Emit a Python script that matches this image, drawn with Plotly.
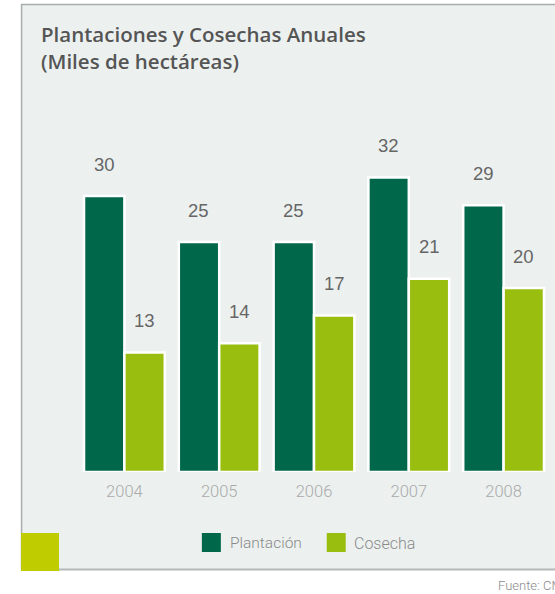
import plotly.graph_objects as go

# ---- data ----
years = ["2004", "2005", "2006", "2007", "2008"]
plantacion = [30, 25, 25, 32, 29]
cosecha = [13, 14, 17, 21, 20]
series_names = ["Plantación", "Cosecha"]
title_lines = ["Plantaciones y Cosechas Anuales", "(Miles de hectáreas)"]
source_text = "Fuente: CMPC"

# ---- geometry (pixels) ----
FIG_W, FIG_H = 555, 594
L, R, T, B = 77, 3.5, 104, 122
PW = FIG_W - L - R
PH = FIG_H - T - B
BASE = FIG_H - B


def X(px):
    return (px - L) / PW


def Y(py):
    return (BASE - py) / PH


DARK = "#00674A"
LIME = "#99BE10"
PANEL = "#ECF1F0"

fig = go.Figure()
fig.add_trace(go.Bar(x=years, y=plantacion, name=series_names[0],
                     marker=dict(color=DARK, line=dict(color="white", width=2.5)),
                     showlegend=False))
fig.add_trace(go.Bar(x=years, y=cosecha, name=series_names[1],
                     marker=dict(color=LIME, line=dict(color="white", width=2.5)),
                     showlegend=False))

shapes = [
    dict(type="rect", xref="paper", yref="paper", x0=X(21), x1=X(600), y0=Y(570), y1=Y(4),
         fillcolor=PANEL, line=dict(width=0), layer="below"),
    dict(type="line", xref="paper", yref="paper", x0=X(21), x1=X(600), y0=Y(4.5), y1=Y(4.5),
         line=dict(color="#A8ADAD", width=1.5), layer="below"),
    dict(type="line", xref="paper", yref="paper", x0=X(21.5), x1=X(21.5), y0=Y(4), y1=Y(570),
         line=dict(color="#A8ADAD", width=1.5), layer="below"),
    dict(type="line", xref="paper", yref="paper", x0=X(21), x1=X(600), y0=Y(569.5), y1=Y(569.5),
         line=dict(color="#B4B8B8", width=2), layer="below"),
    dict(type="rect", xref="paper", yref="paper", x0=X(21), x1=X(59), y0=Y(571), y1=Y(533),
         fillcolor="#BFCC00", line=dict(width=0), layer="above"),
    # legend swatches
    dict(type="rect", xref="paper", yref="paper", x0=X(202), x1=X(221), y0=Y(552), y1=Y(533),
         fillcolor=DARK, line=dict(width=0)),
    dict(type="rect", xref="paper", yref="paper", x0=X(327), x1=X(346), y0=Y(552), y1=Y(533),
         fillcolor=LIME, line=dict(width=0)),
]

annotations = [
    dict(xref="paper", yref="paper", x=X(39), y=Y(18), xanchor="left", yanchor="top",
         text="<br>".join(title_lines), showarrow=False, align="left",
         font=dict(family="Open Sans", size=20.5, color="#555555", weight=600)),
    dict(xref="paper", yref="paper", x=X(228), y=Y(543), xanchor="left", yanchor="middle",
         text=series_names[0], showarrow=False,
         font=dict(family="Roboto", size=15.5, color="#8A8A8A", weight=300)),
    dict(xref="paper", yref="paper", x=X(352), y=Y(543), xanchor="left", yanchor="middle",
         text=series_names[1], showarrow=False,
         font=dict(family="Roboto", size=16, color="#8A8A8A", weight=300)),
    dict(xref="paper", yref="paper", x=X(496), y=Y(585), xanchor="left", yanchor="middle",
         text=source_text, showarrow=False,
         font=dict(family="Roboto", size=13, color="#8A8A8A", weight=300)),
]

for i, v in enumerate(plantacion):
    annotations.append(dict(x=i, y=v, xref="x", yref="y", xshift=-20.25, yshift=32,
                            text=str(v), showarrow=False, yanchor="middle",
                            font=dict(family="Liberation Sans", size=18.5, color="#666666")))
for i, v in enumerate(cosecha):
    annotations.append(dict(x=i, y=v, xref="x", yref="y", xshift=20.25, yshift=32,
                            text=str(v), showarrow=False, yanchor="middle",
                            font=dict(family="Liberation Sans", size=18.5, color="#666666")))

fig.update_layout(
    width=FIG_W, height=FIG_H,
    margin=dict(l=L, r=R, t=T, b=B, pad=0),
    paper_bgcolor="white", plot_bgcolor="rgba(0,0,0,0)",
    barmode="group", bargap=0.148, bargroupgap=0,
    shapes=shapes, annotations=annotations,
    xaxis=dict(type="category", range=[-0.5, len(years) - 0.5], autorange=False,
               showgrid=False, showline=False, zeroline=False, ticks="",
               tickfont=dict(family="Roboto", size=16.5, color="#AAAAAA", weight=300),
               ticklabelstandoff=7),
    yaxis=dict(visible=False, range=[0, 40], autorange=False, showgrid=False, zeroline=False),
    showlegend=False,
)

fig.write_html("out.html", config={"displayModeBar": False},
               post_script="document.body.style.margin='0';document.body.style.padding='0';")
